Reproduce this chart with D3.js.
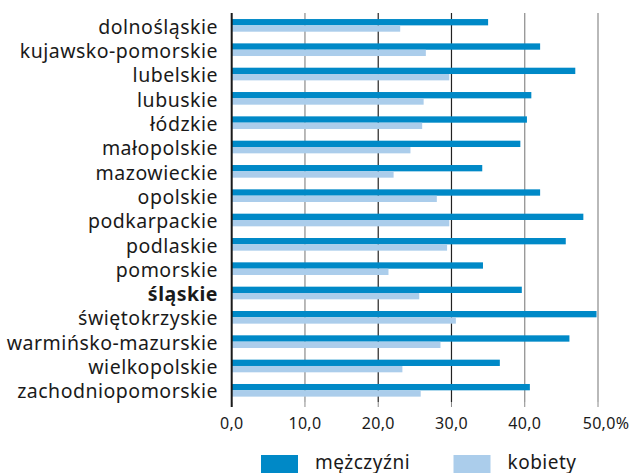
<!DOCTYPE html>
<html>
<head>
<meta charset="utf-8">
<script src="https://cdn.jsdelivr.net/npm/d3@7"></script>
<style>
  body { margin: 0; background: #fff; }
  text { font-family: "Noto Sans", "Open Sans", sans-serif; fill: #1a1a1a; }
</style>
</head>
<body>
<div id="chart"></div>
<script>
// województwa (categories)
const regions = ["dolnośląskie", "kujawsko-pomorskie", "lubelskie", "lubuskie", "łódzkie",
  "małopolskie", "mazowieckie", "opolskie", "podkarpackie", "podlaskie", "pomorskie",
  "śląskie", "świętokrzyskie", "warmińsko-mazurskie", "wielkopolskie", "zachodniopomorskie"];
const men   = [35.0, 42.1, 46.9, 40.9, 40.3, 39.4, 34.2, 42.1, 48.0, 45.6, 34.3, 39.6, 49.8, 46.1, 36.6, 40.7];
const women = [23.0, 26.5, 29.7, 26.2, 26.0, 24.4, 22.1, 28.0, 29.7, 29.4, 21.4, 25.6, 30.6, 28.5, 23.3, 25.8];
const ticks = [0, 10, 20, 30, 40, 50];
const tickLabels = ["0,0", "10,0", "20,0", "30,0", "40,0", "50,0%"];
const seriesNames = ["mężczyźni", "kobiety"];
const colors = ["#0089c7", "#abcdeb"];

const width = 633, height = 473;
const margin = {top: 13, left: 231.7};
const bottom = 402;

const svg = d3.select("#chart").append("svg")
  .attr("width", width)
  .attr("height", height);

const x = d3.scaleLinear()
  .domain([0, 50])
  .range([margin.left, 598]);

const y = d3.scaleBand()
  .domain(regions)
  .range([13.2, 13.2 + 24.33 * regions.length])
  .paddingInner(0.48)
  .paddingOuter(0.24);

// grid lines
svg.append("g")
  .selectAll("line")
  .data(ticks.slice(1))
  .enter()
  .append("line")
    .attr("x1", d => x(d)).attr("x2", d => x(d))
    .attr("y1", margin.top).attr("y2", bottom)
    .attr("stroke", d => (d == 20 || d == 30) ? "#222" : "#8a8a8a")
    .attr("stroke-width", 1.2);

// ticks under the axis
svg.append("g")
  .selectAll("line")
  .data(ticks)
  .enter()
  .append("line")
    .attr("x1", d => x(d)).attr("x2", d => x(d))
    .attr("y1", bottom).attr("y2", bottom + 5)
    .attr("stroke", "#8a8a8a")
    .attr("stroke-width", 1);

// bars: men on top, women below
const barH = y.bandwidth() / 2;
const g = svg.append("g");
g.selectAll(".men")
  .data(regions)
  .enter()
  .append("rect")
    .attr("x", x(0))
    .attr("y", d => y(d))
    .attr("width", (d, i) => x(men[i]) - x(0))
    .attr("height", barH)
    .attr("fill", colors[0]);
g.selectAll(".women")
  .data(regions)
  .enter()
  .append("rect")
    .attr("x", x(0))
    .attr("y", d => y(d) + barH)
    .attr("width", (d, i) => x(women[i]) - x(0))
    .attr("height", barH)
    .attr("fill", colors[1]);

// zero axis
svg.append("line")
  .attr("x1", x(0)).attr("x2", x(0))
  .attr("y1", margin.top).attr("y2", bottom + 5)
  .attr("stroke", "#1a1a1a")
  .attr("stroke-width", 2);

// category labels
svg.append("g")
  .selectAll("text")
  .data(regions)
  .enter()
  .append("text")
    .attr("x", 218)
    .attr("y", d => y(d) + 14.5)
    .attr("text-anchor", "end")
    .style("font-size", "19.5px")
    .style("letter-spacing", "0.5px")
    .style("font-weight", d => d == "śląskie" ? "bold" : "normal")
    .text(d => d);

// tick labels
svg.append("g")
  .selectAll("text")
  .data(ticks)
  .enter()
  .append("text")
    .attr("x", (d, i) => x(d) + (i == ticks.length - 1 ? 8 : 0))
    .attr("y", 429)
    .attr("text-anchor", "middle")
    .style("font-size", "16px")
    .style("letter-spacing", "0.3px")
    .text((d, i) => tickLabels[i]);

// legend
const legendX = [261, 453.5];
const legend = svg.append("g");
legend.selectAll("rect")
  .data(seriesNames)
  .enter()
  .append("rect")
    .attr("x", (d, i) => legendX[i])
    .attr("y", 455)
    .attr("width", 37)
    .attr("height", 20)
    .attr("fill", (d, i) => colors[i]);
legend.selectAll("text")
  .data(seriesNames)
  .enter()
  .append("text")
    .attr("x", (d, i) => legendX[i] + 54)
    .attr("y", 469)
    .style("font-size", "19px")
    .style("letter-spacing", "0.5px")
    .text(d => d);
</script>
</body>
</html>
